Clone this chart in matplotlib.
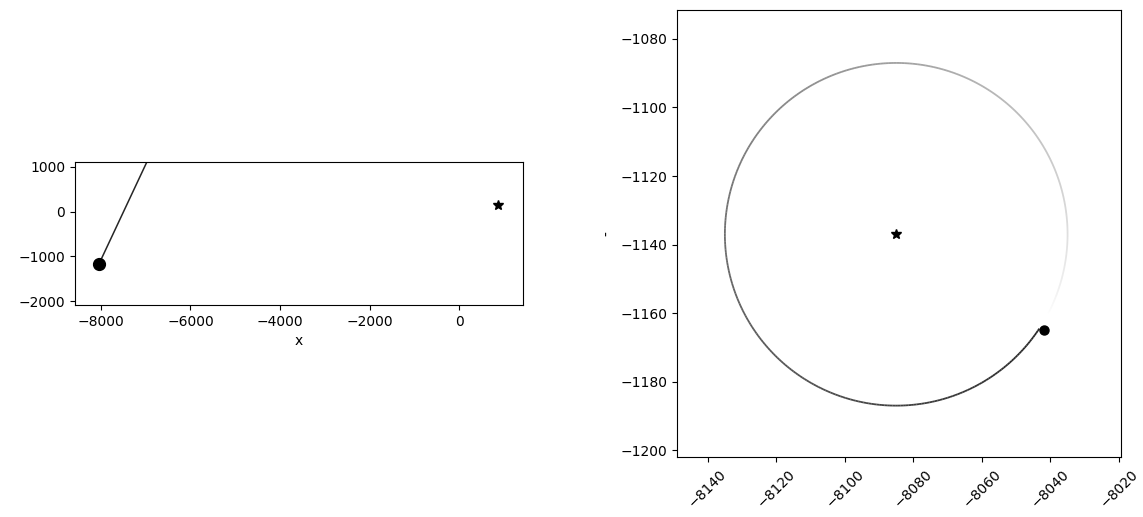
import numpy as np
import matplotlib
matplotlib.use("Agg")
import matplotlib.pyplot as plt
from matplotlib.collections import LineCollection

# positions
star_big = (870, 150)          # star in the wide view
body = (-8042, -1165)          # the dot
trail_big_x = [-8042, -6509]   # straight trail in the wide view
trail_big_y = [-1165, 2100]

centre = (-8085, -1137)        # star in the zoomed view
radius = 50
angle_now = -33.4              # degrees, where the dot sits
trail_span = 355               # degrees of orbit trail shown


def faded_line(ax, xs, ys, lw=1.3):
    pts = np.column_stack([xs, ys]).reshape(-1, 1, 2)
    segs = np.concatenate([pts[:-1], pts[1:]], axis=1)
    a = np.linspace(1, 0, len(segs)) ** 0.75
    cols = np.zeros((len(segs), 4))
    cols[:, 3] = a * 0.85
    ax.add_collection(LineCollection(segs, colors=cols, linewidths=lw))


fig, (ax1, ax2) = plt.subplots(1, 2, figsize=(11.43, 5.17), dpi=100)

# wide view
ax1.plot(trail_big_x, trail_big_y, color="k", lw=1.1, alpha=0.85)
ax1.plot(*body, "o", color="k", ms=8.5)
ax1.plot(*star_big, "*", color="k", ms=7)
ax1.set_xlim(-8581, 1430)
ax1.set_ylim(-2091, 1114)
ax1.set_aspect("equal")
ax1.set_xlabel("x")

# zoomed view, orbit trail fading with age
ang = np.radians(np.linspace(angle_now, angle_now - trail_span, 400))
ox = centre[0] + radius * np.cos(ang)
oy = centre[1] + radius * np.sin(ang)
faded_line(ax2, ox, oy)
ax2.plot(*body, "o", color="k", ms=6.5)
ax2.plot(*centre, "*", color="k", ms=7)
ax2.set_xlim(-8149, -8019.4)
ax2.set_ylim(-1202, -1071.5)
ax2.set_aspect("equal")
ax2.set_ylabel("-")
plt.setp(ax2.get_xticklabels(), rotation=45)

plt.subplots_adjust(left=0.0656, right=0.9825, top=0.981, bottom=0.116, wspace=0.339)
plt.savefig("out.png")
